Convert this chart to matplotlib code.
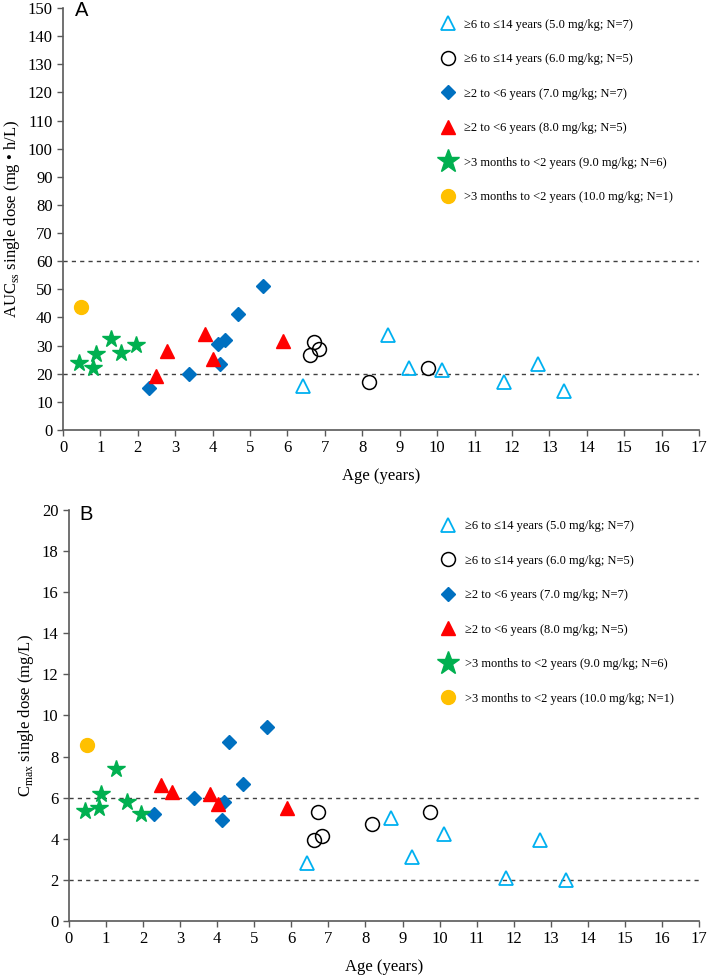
import matplotlib
matplotlib.use("Agg")
import matplotlib.pyplot as plt
from matplotlib.lines import Line2D

plt.rcParams['font.family'] = ['Liberation Serif', 'DejaVu Serif']
plt.rcParams['mathtext.fontset'] = 'custom'
plt.rcParams['mathtext.rm'] = 'Liberation Serif'

# group data (age in years, AUC in mg*h/L, Cmax in mg/L)
cyan_age = [6.42, 8.68, 9.25, 10.12, 11.80, 12.70, 13.40]
cyan_auc = [15.7, 33.7, 22.2, 21.3, 17.2, 23.6, 14.0]
cyan_cmax = [2.81, 5.00, 3.10, 4.23, 2.10, 3.94, 2.00]

black_age = [6.60, 6.72, 6.84, 8.18, 9.75]
black_auc = [26.5, 31.4, 28.8, 17.1, 21.9]
black_cmax = [3.96, 5.29, 4.15, 4.70, 5.29]

blue_age = [2.29, 3.38, 4.13, 4.19, 4.33, 4.69, 5.35]
blue_auc = [15.1, 20.0, 30.5, 23.6, 31.9, 41.2, 51.1]
blue_cmax = [5.19, 5.97, 4.91, 5.81, 8.73, 6.68, 9.42]

red_age = [2.49, 2.79, 3.80, 4.01, 5.89]
red_auc = [19.2, 28.2, 34.0, 25.1, 31.6]
red_cmax = [6.60, 6.28, 6.16, 5.69, 5.51]

green_age = [0.42, 0.80, 0.87, 1.28, 1.56, 1.95]
green_auc = [24.0, 21.9, 27.2, 32.5, 27.3, 30.4]
green_cmax = [5.35, 5.48, 6.18, 7.38, 5.81, 5.19]

orange_age = [0.49]
orange_auc = [43.7]
orange_cmax = [8.56]

labels = ['≥6 to ≤14 years (5.0 mg/kg; N=7)',
          '≥6 to ≤14 years (6.0 mg/kg; N=5)',
          '≥2 to <6 years (7.0 mg/kg; N=7)',
          '≥2 to <6 years (8.0 mg/kg; N=5)',
          '>3 months to <2 years (9.0 mg/kg; N=6)',
          '>3 months to <2 years (10.0 mg/kg; N=1)']

auc_lines = [20, 60]
cmax_lines = [2, 6]

CYAN = '#00B0F0'
BLUE = '#0070C0'
RED = '#FF0000'
GREEN = '#00B050'
ORANGE = '#FFC000'
AXC = '#595959'

styles = [dict(marker='^', mfc='none', mec=CYAN, ms=10, mew=1.3),
          dict(marker='o', mfc='none', mec='black', ms=10, mew=1.1),
          dict(marker='D', mfc=BLUE, mec=BLUE, ms=7.5),
          dict(marker='^', mfc=RED, mec=RED, ms=10),
          dict(marker='*', mfc=GREEN, mec=GREEN, ms=13),
          dict(marker='o', mfc=ORANGE, mec=ORANGE, ms=10)]

fig = plt.figure(figsize=(7.09, 9.8), dpi=100)
axA = fig.add_axes([0.0889, 0.5612, 0.897, 0.4306])
axB = fig.add_axes([0.0973, 0.0602, 0.8886, 0.4194])


def panel(ax, ys, refs, ymax, ystep, ylabel, letter, lx, ly, legx):
    ages = [cyan_age, black_age, blue_age, red_age, green_age, orange_age]
    for a, y, st in zip(ages, ys, styles):
        ax.plot(a, y, ls='none', **st, zorder=3)
    for r in refs:
        ax.plot([0, 17], [r, r], ls=(0, (3, 3)), color='#404040', lw=1.0, zorder=2)
    ax.set_xlim(0, 17)
    ax.set_ylim(0, ymax)
    ax.set_xticks(range(0, 18))
    ax.set_yticks(range(0, ymax + 1, ystep))
    for s in ['top', 'right']:
        ax.spines[s].set_visible(False)
    for s in ['left', 'bottom']:
        ax.spines[s].set_color(AXC)
        ax.spines[s].set_linewidth(1.2)
    ax.tick_params(direction='out', length=4, width=1.0, color=AXC, labelsize=12)
    ax.set_xlabel('Age (years)', fontsize=12, labelpad=8)
    ax.set_ylabel(ylabel, fontsize=12, labelpad=4)
    fig.text(lx, ly, letter, fontsize=14.5, family='Liberation Sans',
             va='top', ha='left')
    handles = []
    for st in styles:
        st2 = dict(st)
        if st2['marker'] == '*':
            st2['ms'] = 17
        handles.append(Line2D([], [], ls='none', **st2))
    ax.legend(handles, labels, loc='upper left', bbox_to_anchor=(legx, 0.987),
              frameon=False, fontsize=9, labelspacing=1.8, handletextpad=0.75,
              borderaxespad=0, handlelength=1.2)


panel(axA, [cyan_auc, black_auc, blue_auc, red_auc, green_auc, orange_auc],
      auc_lines, 150, 10, r'AUC$_{\mathrm{ss}}$ single dose (mg • h/L)', 'A',
      75 / 709, 1 - 1 / 980, 0.585)
panel(axB, [cyan_cmax, black_cmax, blue_cmax, red_cmax, green_cmax, orange_cmax],
      cmax_lines, 20, 2, r'C$_{\mathrm{max}}$ single dose (mg/L)', 'B',
      79 / 709, 1 - 505 / 980, 0.582)

fig.savefig('out.png', dpi=100)
